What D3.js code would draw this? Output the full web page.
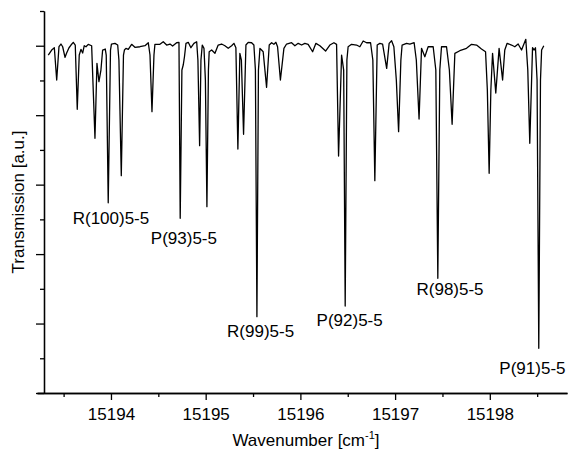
<!DOCTYPE html>
<html>
<head>
<meta charset="utf-8">
<script src="https://cdn.jsdelivr.net/npm/d3@7"></script>
<style>
	body { margin: 0; background: #fff; }
	svg { display: block; font-family: "Liberation Sans", Arial, sans-serif; }
	.axis path, .axis line { stroke: #000; stroke-width: 1.3; }
	.axis text { font-size: 17px; fill: #000; }
</style>
</head>
<body>
<div id="spectrum"></div>
<script>
'use strict';

// wavenumber [cm-1]
const wavenumber = [
	15193.338, 15193.374, 15193.402, 15193.427, 15193.451, 15193.472, 15193.490, 15193.515, 15193.532, 15193.557,
	15193.578, 15193.602, 15193.623, 15193.644, 15193.665, 15193.683, 15193.701, 15193.718, 15193.736, 15193.760,
	15193.796, 15193.831, 15193.852, 15193.873, 15193.894, 15193.912, 15193.940, 15193.950, 15193.971, 15193.995,
	15194.005, 15194.042, 15194.071, 15194.084, 15194.109, 15194.132, 15194.142, 15194.158, 15194.183, 15194.218,
	15194.253, 15194.306, 15194.359, 15194.394, 15194.412, 15194.433, 15194.454, 15194.464, 15194.517, 15194.552,
	15194.588, 15194.623, 15194.651, 15194.693, 15194.718, 15194.731, 15194.749, 15194.763, 15194.776, 15194.792,
	15194.816, 15194.844, 15194.876, 15194.905, 15194.918, 15194.936, 15194.950, 15194.964, 15194.982, 15194.997,
	15195.013, 15195.029, 15195.037, 15195.063, 15195.098, 15195.132, 15195.168, 15195.203, 15195.238, 15195.274,
	15195.298, 15195.319, 15195.340, 15195.361, 15195.377, 15195.400, 15195.425, 15195.449, 15195.485, 15195.509,
	15195.525, 15195.541, 15195.557, 15195.573, 15195.590, 15195.607, 15195.643, 15195.671, 15195.696, 15195.720,
	15195.741, 15195.759, 15195.789, 15195.826, 15195.854, 15195.907, 15195.942, 15195.977, 15196.013, 15196.047,
	15196.082, 15196.129, 15196.164, 15196.206, 15196.266, 15196.311, 15196.354, 15196.382, 15196.403, 15196.435,
	15196.457, 15196.473, 15196.491, 15196.504, 15196.540, 15196.593, 15196.628, 15196.663, 15196.699, 15196.741,
	15196.765, 15196.786, 15196.811, 15196.839, 15196.868, 15196.911, 15196.937, 15196.963, 15196.987, 15197.013,
	15197.037, 15197.061, 15197.074, 15197.121, 15197.156, 15197.201, 15197.224, 15197.253, 15197.279, 15197.314,
	15197.349, 15197.402, 15197.430, 15197.451, 15197.472, 15197.490, 15197.543, 15197.573, 15197.602, 15197.631,
	15197.683, 15197.754, 15197.807, 15197.860, 15197.912, 15197.955, 15197.974, 15197.993, 15198.011, 15198.029,
	15198.063, 15198.098, 15198.135, 15198.158, 15198.183, 15198.229, 15198.264, 15198.299, 15198.335, 15198.380,
	15198.401, 15198.422, 15198.451, 15198.468, 15198.482, 15198.499, 15198.517, 15198.535, 15198.547, 15198.570
];

// transmission [a.u.], baseline ~1
const transmission = [
	0.9732, 0.9876, 0.9942, 0.9012, 0.9971, 1.0049, 0.9971, 0.9666, 0.9790, 0.9942,
	1.0020, 1.0098, 1.0020, 0.8169, 0.9732, 0.9896, 0.9790, 1.0000, 0.9971, 1.0040,
	1.0000, 0.7334, 0.9493, 0.8964, 0.9300, 0.9876, 0.9905, 0.9732, 0.5479, 0.9876,
	1.0049, 1.0069, 1.0020, 0.9588, 0.6257, 0.9732, 0.9876, 0.9925, 0.9896, 1.0040,
	0.9954, 0.9971, 1.0000, 1.0086, 0.9732, 0.8100, 0.9732, 1.0040, 1.0040, 1.0115,
	1.0020, 1.0049, 0.9991, 1.0086, 1.0098, 0.5030, 0.9300, 0.9444, 0.9683, 1.0069,
	1.0098, 0.9942, 1.0069, 1.0115, 0.9588, 0.7121, 0.9588, 1.0020, 0.9925, 0.9012,
	0.5364, 0.9300, 0.9827, 0.9876, 0.9781, 1.0020, 1.0049, 1.0000, 0.9925, 1.0000,
	1.0069, 0.9942, 0.7026, 0.9781, 0.9588, 0.7449, 1.0020, 1.0098, 1.0086, 1.0020,
	0.9300, 0.2197, 0.9300, 0.9925, 0.9876, 0.9827, 0.8802, 1.0020, 1.0086, 1.0040,
	1.0098, 0.9971, 0.9012, 0.9925, 1.0049, 1.0086, 1.0000, 1.0069, 1.0020, 1.0069,
	1.0040, 0.9827, 1.0069, 1.0000, 0.9847, 1.0020, 1.0086, 1.0040, 0.6824, 0.9732,
	0.9300, 0.2505, 0.9588, 0.9971, 1.0040, 1.0020, 0.9971, 1.0135, 1.0086, 1.0086,
	0.9588, 0.6113, 1.0020, 1.0069, 1.0049, 0.9349, 1.0069, 1.0144, 0.9971, 0.9012,
	0.7524, 0.9588, 1.0020, 1.0069, 1.0049, 1.0086, 0.9588, 0.7889, 0.9925, 0.9683,
	0.9971, 0.9971, 0.9300, 0.3303, 0.9300, 0.9971, 0.9971, 0.9300, 0.7737, 0.9781,
	0.9856, 0.9925, 1.0040, 1.0020, 0.9905, 0.9827, 0.8725, 0.6326, 0.8725, 0.9781,
	0.8638, 0.9925, 0.9012, 0.9876, 1.0069, 1.0020, 0.9971, 1.0049, 0.9876, 1.0184,
	0.9300, 0.7190, 0.9942, 0.9876, 0.9942, 0.9012, 0.1287, 0.9012, 0.9876, 1.0000
];

// line assignments and where their labels sit
const lineNames = ["R(100)5-5", "P(93)5-5", "R(99)5-5", "P(92)5-5", "R(98)5-5", "P(91)5-5"];
const lineLabelWn = [15194.00, 15194.77, 15195.58, 15196.52, 15197.58, 15198.45];
const lineLabelT = [0.487, 0.429, 0.160, 0.194, 0.281, 0.055];

const xMajorTicks = [15194, 15195, 15196, 15197, 15198];
const xMinorTicks = [15193.5, 15194.5, 15195.5, 15196.5, 15197.5, 15198.5];
const yMajorTicks = [0, 0.2, 0.4, 0.6, 0.8, 1.0];
const yMinorTicks = [0.1, 0.3, 0.5, 0.7, 0.9, 1.1];

function draw()
{
	const width = 573;
	const height = 449;

	const x = d3.scaleLinear()
		.domain([15193.219, 15198.815])
		.range([37, 567]);

	const y = d3.scaleLinear()
		.domain([0, 1.1])
		.range([393, 11]);

	const svg = d3.select("#spectrum")
		.append("svg")
			.attr("width", width)
			.attr("height", height);

	// x axis: minor first, then major with labels
	svg.append("g")
		.attr("class", "axis")
		.attr("transform", `translate(0,${y(0)})`)
		.call(d3.axisBottom(x).tickValues(xMinorTicks).tickSize(4).tickSizeOuter(0).tickFormat(""));

	svg.append("g")
		.attr("class", "axis")
		.attr("transform", `translate(0,${y(0)})`)
		.call(d3.axisBottom(x).tickValues(xMajorTicks).tickSize(7).tickSizeOuter(0).tickPadding(8).tickFormat(d3.format("d")));

	// y axis has no labels
	const yAxis = d3.scaleLinear().domain(y.domain()).range(y.range());
	svg.append("g")
		.attr("class", "axis")
		.attr("transform", "translate(44,0)")
		.call(d3.axisLeft(yAxis).tickValues(yMinorTicks).tickSize(4).tickSizeOuter(0).tickFormat(""));

	svg.append("g")
		.attr("class", "axis")
		.attr("transform", "translate(44,0)")
		.call(d3.axisLeft(yAxis).tickValues(yMajorTicks).tickSize(8).tickSizeOuter(0).tickFormat(""));

	const data = wavenumber.map((w, i) => ({w: w, t: transmission[i]}));

	const line = d3.line()
		.x(d => x(d.w))
		.y(d => y(d.t));

	svg.append("path")
		.datum(data)
		.attr("fill", "none")
		.attr("stroke", "#000")
		.attr("stroke-width", 1.3)
		.attr("stroke-linejoin", "round")
		.attr("d", line);

	svg.append("g")
		.selectAll("text")
		.data(lineNames)
		.join("text")
			.attr("x", (d, i) => x(lineLabelWn[i]))
			.attr("y", (d, i) => y(lineLabelT[i]))
			.attr("text-anchor", "middle")
			.attr("font-size", 17)
			.text(d => d);

	// axis titles
	const xt = svg.append("text")
		.attr("x", 306)
		.attr("y", 446)
		.attr("text-anchor", "middle")
		.attr("font-size", 17);
	xt.append("tspan").text("Wavenumber [cm");
	xt.append("tspan").attr("font-size", 11).attr("dy", -7).text("-1");
	xt.append("tspan").attr("dy", 7).text("]");

	svg.append("text")
		.attr("transform", "translate(24,202) rotate(-90)")
		.attr("text-anchor", "middle")
		.attr("font-size", 17)
		.text("Transmission [a.u.]");

	console.log(`points=${data.length}`);
}

window.onload = draw;
</script>
</body>
</html>
